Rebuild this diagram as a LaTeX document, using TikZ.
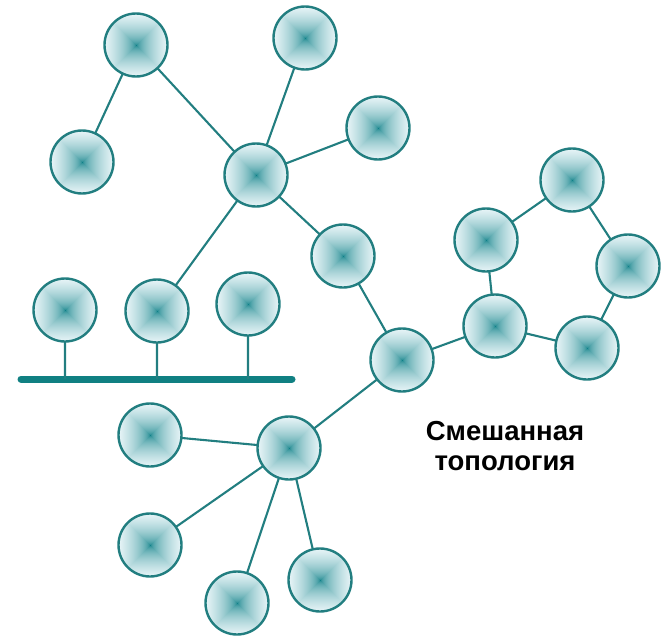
\documentclass[tikz,border=0pt]{standalone}
\usepackage{fontspec}
\setmainfont{Liberation Sans}
\definecolor{edgeteal}{RGB}{34,126,128}
\definecolor{busteal}{RGB}{16,128,130}
\pgfdeclarefunctionalshading{boxshade}{\pgfpoint{-50bp}{-50bp}}{\pgfpoint{50bp}{50bp}}{}{
abs exch abs 2 copy lt {exch} if pop 25 div dup 1 gt {pop 1} if sqrt
dup 0.86 mul 0.05 add exch dup 0.46 mul 0.50 add exch 0.44 mul 0.53 add}
\tikzset{
  pc/.style={circle, minimum size=63pt, inner sep=0pt, draw=edgeteal, line width=2.4pt, shading=boxshade},
  link/.style={draw=edgeteal, line width=2.1pt},
  bus/.style={draw=busteal, line width=7pt, line cap=round},
  lbl/.style={font=\bfseries\fontsize{27.5}{30}\selectfont, align=center, text=black}
}
\begin{document}
\begin{tikzpicture}[x=1pt,y=-1pt]
\useasboundingbox (0,0) rectangle (667,637);
\coordinate (n1) at (136,45);
\coordinate (n2) at (82,162);
\coordinate (n3) at (305,38);
\coordinate (n4) at (378,128);
\coordinate (n5) at (256,175);
\coordinate (n6) at (343,256);
\coordinate (b1) at (65,310);
\coordinate (b2) at (157,311);
\coordinate (b3) at (248,304);
\coordinate (h) at (402,360);
\coordinate (r1) at (486,240);
\coordinate (r2) at (572,180);
\coordinate (r3) at (628,266);
\coordinate (r4) at (587,348);
\coordinate (r5) at (495,326);
\coordinate (l) at (289,448);
\coordinate (l1) at (150,435);
\coordinate (l2) at (150,545);
\coordinate (l3) at (237,603);
\coordinate (l4) at (320,580);
\coordinate (busL) at (21,379);
\coordinate (busR) at (292,379);
\coordinate (d1) at (65,379);
\coordinate (d2) at (157,379);
\coordinate (d3) at (248,379);
\draw[bus] (busL) -- (busR);
\path[link] (n5) -- (n1) (n5) -- (n3) (n5) -- (n4) (n5) -- (n6) (n5) -- (b2)
  (n1) -- (n2) (n6) -- (h) (h) -- (r5) (h) -- (l)
  (r1) -- (r2) (r2) -- (r3) (r3) -- (r4) (r4) -- (r5) (r5) -- (r1)
  (l) -- (l1) (l) -- (l2) (l) -- (l3) (l) -- (l4)
  (b1) -- (d1) (b2) -- (d2) (b3) -- (d3);
\foreach \p in {n1,n2,n3,n4,n5,n6,b1,b2,b3,h,r1,r2,r3,r4,r5,l,l1,l2,l3,l4}
  \node[pc] (N\p) at (\p) {};
\node[lbl] (txt) at (505,446) {Смешанная\\топология};
\end{tikzpicture}
\end{document}
